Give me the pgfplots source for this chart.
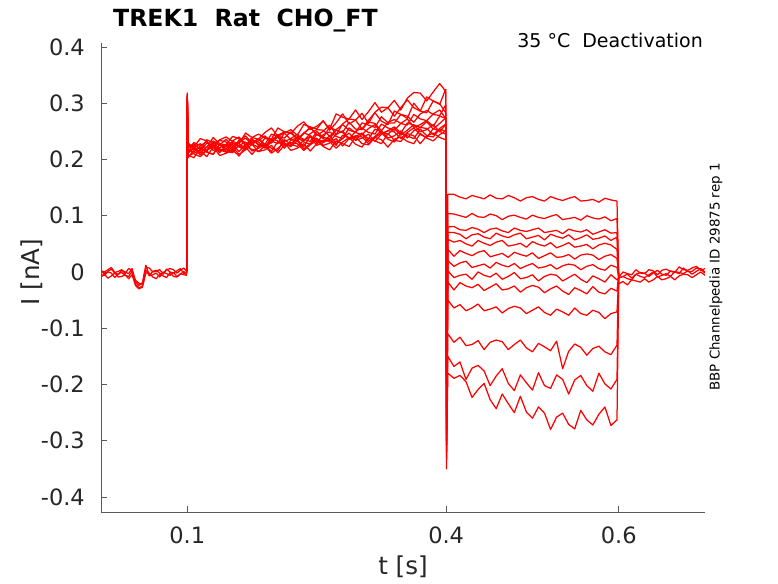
\documentclass[border=0pt]{standalone}
\usepackage{pgfplots}
\pgfplotsset{compat=1.18}
\usepackage{pgfplotstable}
\usepackage{fontspec}
\setmainfont{DejaVu Sans}

\pgfplotstableread{
t b1 b2 b3 b4
0.000 0.002 -0.005 0.002 -0.009
0.004 -0.004 -0.006 0.000 -0.004
0.008 0.001 0.000 0.004 -0.011
0.012 0.005 -0.002 0.008 -0.007
0.016 -0.002 -0.010 -0.001 -0.002
0.020 -0.005 -0.003 0.001 -0.009
0.024 0.003 -0.001 0.004 -0.008
0.028 0.000 -0.006 -0.003 -0.005
0.032 -0.003 -0.008 0.006 -0.012
0.036 0.006 0.001 0.003 -0.005
0.040 -0.018 -0.022 -0.015 -0.024
0.044 -0.024 -0.028 -0.020 -0.030
0.048 -0.019 -0.025 -0.022 -0.027
0.052 0.012 0.004 0.008 -0.002
0.056 -0.006 -0.007 0.007 -0.002
0.060 0.001 -0.005 0.000 -0.009
0.064 0.003 -0.002 0.001 -0.012
0.068 -0.002 -0.009 0.004 -0.004
0.072 -0.004 0.000 -0.003 -0.007
0.076 0.005 -0.003 0.004 -0.010
0.080 0.000 -0.006 0.006 -0.001
0.084 -0.002 -0.001 0.004 -0.008
0.088 0.002 -0.008 -0.002 -0.009
0.092 0.006 -0.004 0.003 -0.003
0.096 -0.003 0.001 0.007 -0.005
0.0995 -0.001 -0.006 0.000 -0.006
}\pre

\pgfplotstableread{
t a1 a2 a3 a4 a5 a6 a7 a8 a9 a10 a11 a12 a13
0.0995 0.002 0.001 0.003 -0.002 0.000 0.002 -0.001 0.003 0.001 -0.003 0.002 0.000 -0.001
0.1000 0.318 0.305 0.312 0.298 0.315 0.302 0.309 0.296 0.311 0.300 0.306 0.293 0.314
0.1010 0.213 0.224 0.221 0.217 0.222 0.211 0.216 0.225 0.208 0.230 0.203 0.218 0.206
0.1075 0.230 0.222 0.226 0.213 0.228 0.221 0.220 0.223 0.203 0.218 0.217 0.210 0.211
0.1150 0.225 0.237 0.219 0.224 0.217 0.208 0.228 0.211 0.219 0.215 0.221 0.205 0.216
0.1225 0.221 0.233 0.215 0.232 0.235 0.217 0.215 0.222 0.214 0.229 0.213 0.216 0.205
0.1300 0.239 0.220 0.233 0.216 0.230 0.227 0.228 0.230 0.209 0.225 0.209 0.223 0.222
0.1375 0.228 0.235 0.226 0.221 0.226 0.215 0.234 0.219 0.227 0.212 0.227 0.207 0.217
0.1450 0.226 0.240 0.222 0.227 0.236 0.219 0.231 0.213 0.214 0.225 0.218 0.211 0.213
0.1525 0.241 0.232 0.233 0.216 0.223 0.227 0.219 0.229 0.212 0.230 0.214 0.217 0.222
0.1600 0.237 0.228 0.240 0.235 0.232 0.214 0.230 0.224 0.226 0.222 0.225 0.206 0.209
0.1675 0.225 0.247 0.225 0.230 0.242 0.227 0.238 0.219 0.222 0.217 0.231 0.223 0.217
0.1750 0.239 0.239 0.230 0.226 0.229 0.233 0.227 0.237 0.209 0.235 0.215 0.218 0.227
0.1825 0.245 0.236 0.237 0.237 0.233 0.231 0.222 0.225 0.223 0.227 0.220 0.214 0.214
0.1900 0.239 0.248 0.227 0.224 0.242 0.220 0.238 0.223 0.228 0.223 0.226 0.224 0.217
0.1975 0.236 0.256 0.245 0.234 0.229 0.231 0.233 0.237 0.220 0.233 0.214 0.211 0.225
0.2050 0.256 0.241 0.241 0.244 0.243 0.240 0.228 0.233 0.216 0.240 0.232 0.220 0.212
0.2125 0.249 0.247 0.238 0.232 0.249 0.229 0.247 0.220 0.235 0.224 0.227 0.230 0.225
0.2200 0.246 0.253 0.249 0.237 0.247 0.224 0.235 0.234 0.227 0.229 0.223 0.216 0.230
0.2275 0.259 0.243 0.237 0.245 0.236 0.241 0.233 0.239 0.223 0.235 0.233 0.220 0.228
0.2350 0.267 0.262 0.246 0.233 0.247 0.236 0.247 0.231 0.234 0.223 0.219 0.228 0.216
0.2425 0.253 0.258 0.257 0.246 0.256 0.232 0.243 0.227 0.241 0.241 0.228 0.215 0.226
0.2500 0.259 0.254 0.243 0.253 0.245 0.250 0.230 0.245 0.225 0.236 0.238 0.228 0.234
0.2575 0.268 0.269 0.250 0.252 0.240 0.239 0.244 0.237 0.230 0.232 0.225 0.234 0.223
0.2650 0.254 0.252 0.261 0.241 0.257 0.237 0.249 0.233 0.236 0.242 0.229 0.232 0.217
0.2725 0.281 0.265 0.244 0.253 0.252 0.252 0.241 0.244 0.225 0.228 0.237 0.220 0.233
0.2800 0.275 0.281 0.263 0.262 0.248 0.248 0.237 0.251 0.243 0.237 0.224 0.231 0.228
0.2875 0.272 0.263 0.272 0.252 0.266 0.236 0.256 0.236 0.239 0.247 0.237 0.239 0.223
0.2950 0.288 0.270 0.270 0.248 0.254 0.250 0.248 0.241 0.235 0.234 0.242 0.227 0.240
0.3025 0.271 0.282 0.254 0.265 0.253 0.256 0.244 0.247 0.245 0.238 0.240 0.222 0.228
0.3100 0.285 0.264 0.270 0.261 0.267 0.248 0.255 0.236 0.232 0.245 0.228 0.238 0.226
0.3175 0.301 0.284 0.283 0.257 0.264 0.245 0.262 0.254 0.241 0.232 0.239 0.233 0.239
0.3250 0.284 0.293 0.268 0.276 0.251 0.263 0.246 0.249 0.251 0.245 0.247 0.228 0.235
0.3325 0.292 0.292 0.262 0.265 0.266 0.256 0.251 0.245 0.238 0.251 0.236 0.246 0.222
0.3400 0.305 0.277 0.286 0.265 0.271 0.252 0.258 0.255 0.242 0.249 0.231 0.234 0.236
0.3475 0.288 0.292 0.280 0.280 0.264 0.264 0.247 0.243 0.251 0.237 0.247 0.232 0.240
0.3550 0.309 0.306 0.273 0.277 0.261 0.272 0.265 0.252 0.238 0.248 0.242 0.246 0.232
0.3625 0.319 0.292 0.300 0.266 0.280 0.257 0.261 0.262 0.251 0.256 0.237 0.242 0.228
0.3700 0.318 0.286 0.286 0.281 0.272 0.262 0.257 0.249 0.257 0.244 0.254 0.228 0.246
0.3775 0.304 0.311 0.283 0.287 0.269 0.269 0.267 0.253 0.255 0.239 0.242 0.242 0.238
0.3850 0.320 0.304 0.304 0.280 0.281 0.259 0.254 0.262 0.244 0.255 0.240 0.247 0.233
0.3925 0.335 0.298 0.299 0.278 0.288 0.277 0.264 0.249 0.255 0.250 0.254 0.239 0.244
0.3995 0.321 0.325 0.283 0.297 0.273 0.273 0.274 0.262 0.263 0.245 0.250 0.235 0.251
}\act

\pgfplotstableread{
t d1 d2 d3 d4 d5 d6 d7 d8 d9 d10 d11 d12 d13
0.3995 0.321 0.325 0.283 0.297 0.273 0.273 0.274 0.262 0.263 0.245 0.250 0.235 0.251
0.4005 -0.300 -0.250 -0.350 -0.280 -0.220 -0.320 -0.260 -0.300 -0.240 -0.330 -0.270 -0.290 -0.310
0.4020 0.138 0.104 0.080 0.070 0.058 0.040 0.020 0.002 -0.018 -0.050 -0.110 -0.150 -0.180
0.409 0.138 0.103 0.081 0.070 0.053 0.028 0.010 -0.010 -0.032 -0.064 -0.125 -0.168 -0.189
0.416 0.133 0.100 0.075 0.067 0.056 0.038 0.016 -0.006 -0.019 -0.058 -0.116 -0.160 -0.184
0.423 0.130 0.097 0.074 0.059 0.050 0.033 0.019 -0.004 -0.025 -0.069 -0.131 -0.191 -0.195
0.430 0.136 0.104 0.079 0.066 0.046 0.029 0.008 -0.013 -0.028 -0.064 -0.129 -0.171 -0.223
0.437 0.133 0.098 0.076 0.068 0.056 0.035 0.011 0.000 -0.022 -0.057 -0.122 -0.166 -0.209
0.444 0.130 0.097 0.070 0.062 0.051 0.038 0.014 -0.006 -0.033 -0.069 -0.138 -0.176 -0.198
0.451 0.137 0.103 0.076 0.059 0.047 0.027 0.007 -0.009 -0.027 -0.066 -0.125 -0.202 -0.227
0.458 0.131 0.100 0.078 0.069 0.053 0.030 0.017 -0.002 -0.021 -0.062 -0.121 -0.185 -0.243
0.465 0.130 0.093 0.073 0.064 0.056 0.033 0.012 -0.013 -0.032 -0.073 -0.124 -0.172 -0.217
0.472 0.136 0.099 0.070 0.061 0.046 0.026 0.009 -0.008 -0.030 -0.065 -0.138 -0.198 -0.234
0.479 0.132 0.101 0.078 0.066 0.048 0.035 0.015 -0.001 -0.025 -0.061 -0.129 -0.211 -0.250
0.486 0.126 0.097 0.074 0.069 0.051 0.031 0.006 -0.012 -0.036 -0.064 -0.121 -0.183 -0.221
0.493 0.132 0.094 0.072 0.059 0.044 0.028 0.011 -0.010 -0.028 -0.074 -0.135 -0.197 -0.249
0.500 0.134 0.101 0.075 0.062 0.054 0.034 0.015 -0.005 -0.024 -0.068 -0.142 -0.210 -0.260
0.507 0.129 0.097 0.078 0.065 0.049 0.024 0.007 -0.016 -0.027 -0.062 -0.127 -0.179 -0.240
0.514 0.126 0.095 0.070 0.057 0.046 0.029 0.009 -0.008 -0.037 -0.072 -0.133 -0.202 -0.251
0.521 0.134 0.099 0.072 0.067 0.052 0.034 0.013 -0.004 -0.030 -0.077 -0.140 -0.207 -0.280
0.528 0.130 0.102 0.074 0.063 0.043 0.026 0.005 -0.006 -0.025 -0.066 -0.123 -0.183 -0.258
0.535 0.127 0.093 0.068 0.060 0.047 0.027 0.011 -0.016 -0.034 -0.071 -0.172 -0.191 -0.251
0.542 0.131 0.095 0.076 0.066 0.052 0.031 0.014 -0.010 -0.040 -0.077 -0.141 -0.217 -0.271
0.549 0.134 0.097 0.073 0.057 0.044 0.023 0.012 -0.004 -0.028 -0.064 -0.128 -0.192 -0.279
0.556 0.126 0.092 0.071 0.061 0.046 0.030 0.004 -0.013 -0.033 -0.074 -0.134 -0.184 -0.246
0.563 0.127 0.100 0.075 0.066 0.049 0.032 0.010 -0.019 -0.039 -0.077 -0.148 -0.202 -0.263
0.570 0.129 0.096 0.067 0.058 0.041 0.030 0.013 -0.007 -0.026 -0.068 -0.136 -0.212 -0.272
0.577 0.124 0.094 0.071 0.060 0.048 0.022 0.006 -0.012 -0.036 -0.072 -0.132 -0.180 -0.253
0.584 0.131 0.098 0.075 0.064 0.051 0.028 0.003 -0.018 -0.039 -0.083 -0.142 -0.199 -0.240
0.591 0.128 0.091 0.069 0.056 0.048 0.031 0.012 -0.005 -0.029 -0.074 -0.147 -0.208 -0.273
0.598 0.126 0.095 0.070 0.062 0.040 0.024 0.008 -0.014 -0.034 -0.071 -0.130 -0.191 -0.263
0.600 -0.008 -0.012 -0.005 -0.010 -0.014 -0.006 -0.009 -0.011 -0.004 -0.013 -0.007 -0.010 -0.015
}\dea

\pgfplotstableread{
t p1 p2 p3 p4
0.600 -0.009 -0.011 -0.021 -0.010
0.605 0.000 -0.008 -0.017 -0.008
0.610 -0.003 -0.012 -0.023 -0.004
0.615 -0.005 -0.014 -0.014 -0.011
0.620 0.004 -0.004 -0.016 -0.004
0.625 -0.002 -0.008 -0.018 -0.001
0.630 -0.003 -0.010 -0.012 -0.002
0.635 0.004 -0.005 -0.018 -0.008
0.640 0.002 0.000 -0.014 -0.002
0.645 -0.005 -0.009 -0.008 0.003
0.650 0.003 -0.006 -0.014 -0.004
0.655 0.005 -0.003 -0.012 -0.006
0.660 0.001 -0.008 -0.008 0.002
0.665 -0.001 0.001 -0.014 0.000
0.670 0.009 -0.001 -0.007 -0.003
0.675 0.004 -0.003 -0.004 0.007
0.680 0.003 0.002 -0.005 0.001
0.685 0.007 -0.004 -0.010 0.001
0.690 0.010 0.001 -0.005 0.007
0.695 0.003 0.006 0.000 0.005
0.700 0.006 0.000 -0.006 -0.002
}\post

\begin{document}
\begin{tikzpicture}
\path[use as bounding box] (0,0) rectangle (778pt,583pt);
\begin{axis}[
  at={(101pt,71pt)}, anchor=south west,
  scale only axis, width=604pt, height=469pt,
  xmin=0, xmax=0.7, ymin=-0.4267, ymax=0.407,
  axis x line=bottom, axis y line=left,
  axis line style={black!65, line width=0.6pt, -},
  x axis line style={-}, y axis line style={-},
  xtick={0.1,0.4,0.6}, xticklabels={0.1,0.4,0.6},
  ytick={-0.4,-0.3,-0.2,-0.1,0,0.1,0.2,0.3,0.4},
  yticklabels={-0.4,-0.3,-0.2,-0.1,0,0.1,0.2,0.3,0.4},
  tick align=inside, major tick length=6pt,
  tick style={black!65, line width=0.6pt},
  x tick label style={font=\fontsize{22.5}{27}\selectfont, text=black!85, anchor=north, inner sep=0pt, yshift=-15pt},
  y tick label style={font=\fontsize{22.5}{27}\selectfont, text=black!85, anchor=east, inner sep=0pt, xshift=-16pt},
  cycle list={{red, solid, line width=1.25pt}},
  every axis plot post/.append style={red, solid, line width=1.25pt, line join=round, no markers},
]
\pgfplotsinvokeforeach{1,2,3,4}{\addplot table[x=t,y=b#1]{\pre};}
\pgfplotsinvokeforeach{1,2,3,4,5,6,7,8,9,10,11,12,13}{\addplot table[x=t,y=a#1]{\act};}
\pgfplotsinvokeforeach{1,2,3,4,5,6,7,8,9,10,11,12,13}{\addplot table[x=t,y=d#1]{\dea};}
\pgfplotsinvokeforeach{1,2,3,4}{\addplot table[x=t,y=p#1]{\post};}
\end{axis}
\node[anchor=base west, inner sep=0pt, font=\fontsize{23.6}{28}\selectfont\bfseries] at (113pt,556.3pt) {TREK1\ \ Rat\ \ CHO\_FT};
\node[anchor=base east, inner sep=0pt, font=\fontsize{19}{23}\selectfont] at (703pt,535.7pt) {35 °C\ \ Deactivation};
\node[rotate=90, inner sep=0pt, font=\fontsize{13.4}{16}\selectfont] at (716pt,306pt) {BBP Channelpedia ID 29875 rep 1};
\node[rotate=90, inner sep=0pt, font=\fontsize{24.6}{29}\selectfont, text=black!85] at (32pt,311pt) {I [nA]};
\node[inner sep=0pt, font=\fontsize{24.6}{29}\selectfont, text=black!85] at (403pt,16pt) {t [s]};
\end{tikzpicture}
\end{document}
